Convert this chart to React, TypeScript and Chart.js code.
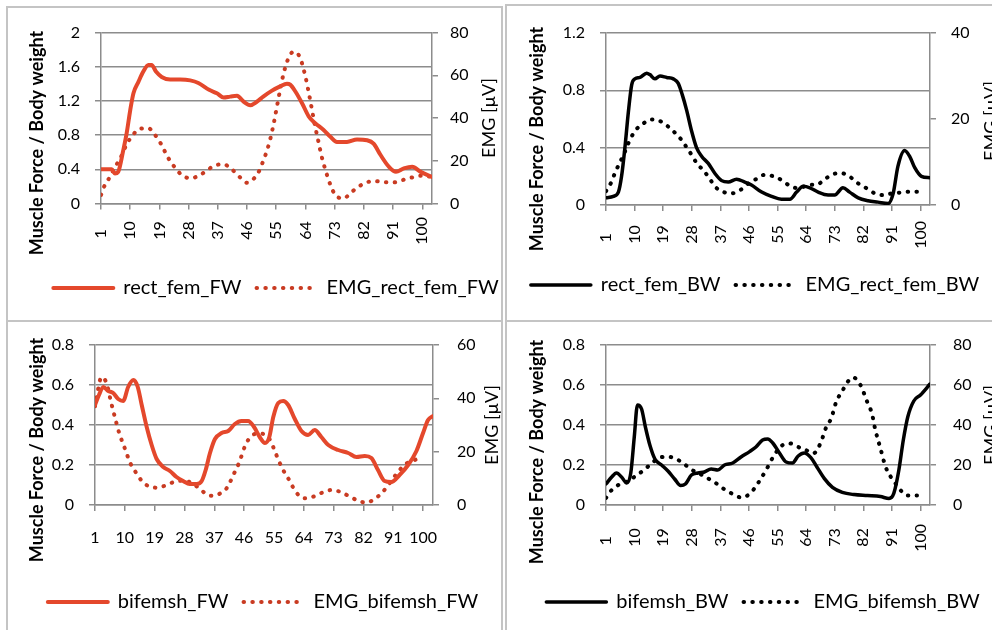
import React, { useEffect, useRef } from 'react';
import { Chart, registerables } from 'chart.js';

Chart.register(...registerables);

const RED = '#E4482C';
const RED_DOT = '#C93B22';
const BLACK = '#000000';
const GRID = '#8C8C8C';
const FONT = 'Lato, "Open Sans", sans-serif';

// category axis (gait cycle %) tick values and labels
const xTickValues = [1, 10, 19, 28, 37, 46, 55, 64, 73, 82, 91, 100];
const xTickLabels = ['1', '10', '19', '28', '37', '46', '55', '64', '73', '82', '91', '100'];

// ---------- rect_fem FW ----------
const rectFemFwX = [1, 4.3, 5.3, 6.3, 7.9, 8.9, 10, 11, 12.5, 14, 15.6, 16.6, 18, 19.7, 22.3, 25.4, 28.5, 31, 34.3, 36.7, 38.8, 40.8, 42.9, 45, 47, 49, 51, 53.7, 56.2, 58.3, 59.3, 60.9, 63, 65, 67, 69.6, 71.7, 73.7, 76.8, 79.9, 83, 85, 87.1, 89.7, 91.9, 94.3, 96.9, 99.5, 103];
const rectFemFwY = [0.40, 0.40, 0.35, 0.37, 0.63, 0.82, 1.09, 1.29, 1.42, 1.54, 1.62, 1.62, 1.54, 1.48, 1.45, 1.45, 1.44, 1.41, 1.33, 1.29, 1.24, 1.25, 1.26, 1.19, 1.15, 1.19, 1.25, 1.32, 1.37, 1.40, 1.39, 1.31, 1.17, 1.02, 0.94, 0.86, 0.78, 0.72, 0.72, 0.75, 0.74, 0.70, 0.57, 0.43, 0.37, 0.41, 0.43, 0.37, 0.31];
const emgRectFemFwX = [1, 2.2, 3.8, 5.3, 6.9, 8.9, 10.8, 12.8, 15.6, 17.7, 19.4, 21.8, 23.8, 25.9, 28.5, 31, 33.6, 36.2, 38.8, 41.3, 43.6, 46, 48.2, 49.9, 51, 52.2, 53.3, 54.3, 55.3, 56.3, 57.3, 58.5, 60.3, 62.2, 63.9, 65, 66, 67, 68, 69, 70.3, 71.7, 73.2, 75.8, 78, 80.4, 82.9, 85.4, 88.3, 91.3, 94, 96.9, 99.6, 102.2];
const emgRectFemFwY = [4, 8.7, 12.5, 17, 21, 27.7, 32, 34.9, 35.2, 32, 28.1, 21.1, 16.8, 13.3, 11.8, 12.9, 15.4, 17.9, 18.3, 16, 12.6, 9.7, 11.8, 15.7, 20, 25, 31, 38, 46, 54, 61, 67, 71, 68.7, 60, 52, 44, 36, 29, 22, 15, 8.7, 4, 2.4, 5.1, 7.9, 9.9, 10.5, 9.9, 9.9, 11, 12.2, 13, 12.6];

// ---------- rect_fem BW ----------
const rectFemBwX = [1, 3.3, 4.9, 5.9, 7, 8, 9.1, 10.1, 11.7, 13.8, 14.8, 16.4, 18, 20.1, 22.2, 23.7, 25, 26.4, 27.9, 29.5, 31.1, 33.2, 35.3, 37.4, 39.5, 42.1, 44.7, 46.8, 50, 53.1, 56.2, 58.9, 61, 63.1, 65.2, 67.8, 70.9, 73, 75.6, 77.7, 80.4, 83.5, 86.6, 89.8, 91.4, 92.9, 95, 96.6, 98.2, 100.3, 103];
const rectFemBwY = [0.05, 0.06, 0.09, 0.2, 0.41, 0.64, 0.84, 0.88, 0.89, 0.92, 0.91, 0.88, 0.9, 0.89, 0.88, 0.85, 0.77, 0.66, 0.52, 0.4, 0.34, 0.29, 0.22, 0.17, 0.16, 0.18, 0.16, 0.14, 0.09, 0.06, 0.04, 0.04, 0.09, 0.13, 0.12, 0.09, 0.07, 0.07, 0.12, 0.09, 0.05, 0.03, 0.02, 0.01, 0.08, 0.27, 0.38, 0.34, 0.26, 0.2, 0.19];
const emgRectFemBwX = [1, 2.6, 3.8, 5.1, 6.5, 8, 10.1, 12.5, 15.2, 17.8, 20.3, 22.7, 24.6, 26.4, 28, 29.5, 31.7, 33.4, 35.3, 37.7, 40.5, 43.3, 45.8, 48.2, 50.8, 53.6, 56.5, 59.2, 62, 64.6, 67.2, 69.9, 72.5, 75.1, 77.7, 80.4, 83, 85.6, 88.3, 91, 94, 97.1, 100.6];
const emgRectFemBwY = [3.2, 5.2, 7.4, 9.5, 11.6, 14.3, 17.2, 18.8, 19.9, 19.6, 18.4, 16.8, 15.3, 13.4, 11.6, 9.8, 8, 6.4, 4.3, 3.1, 2.7, 3.5, 5, 6, 7, 6.7, 5.7, 4.3, 3.9, 4.7, 4.7, 6, 7.2, 7.4, 6.6, 5, 3.9, 2.7, 2.3, 2.7, 2.9, 3.1, 3.1];

// ---------- bifemsh FW ----------
const bifemshFwX = [1, 2.2, 3.5, 5, 6.5, 8, 9.5, 11, 12.6, 13.9, 15.1, 16.6, 18.1, 19.6, 21.6, 23.6, 25.6, 27.6, 29.6, 31.7, 33.2, 34.4, 35.7, 37.2, 39.2, 41.2, 43.2, 45.2, 47.2, 49, 50.7, 52.3, 53.6, 54.8, 56.3, 57.8, 59.3, 61.3, 63.3, 65.3, 67.3, 69.3, 71.4, 74.4, 77.4, 79.9, 82.4, 84.4, 86.4, 88.4, 90.4, 92.9, 95.5, 98, 100, 101.5, 103];
const bifemshFwY = [0.5, 0.55, 0.59, 0.57, 0.56, 0.53, 0.52, 0.59, 0.625, 0.59, 0.5, 0.39, 0.3, 0.23, 0.19, 0.17, 0.14, 0.12, 0.105, 0.105, 0.12, 0.175, 0.26, 0.33, 0.36, 0.37, 0.405, 0.42, 0.42, 0.39, 0.34, 0.31, 0.34, 0.44, 0.51, 0.52, 0.5, 0.43, 0.37, 0.35, 0.375, 0.34, 0.3, 0.275, 0.26, 0.24, 0.245, 0.235, 0.175, 0.12, 0.115, 0.15, 0.2, 0.27, 0.36, 0.425, 0.445];
const emgBifemshFwX = [1, 3, 4.5, 5.8, 7.2, 8.3, 9.8, 11.8, 13.4, 15.1, 17.1, 19.9, 22.6, 25.1, 27.9, 30.7, 33.2, 35.7, 38.2, 40.7, 43, 44.5, 46.4, 48, 50.2, 52.8, 54.1, 55.2, 57.5, 59.3, 61.8, 64.3, 66.8, 69.5, 72.2, 74.9, 77.4, 79.9, 82.7, 85.2, 87.6, 89.9, 92.5, 95, 97.5, 100];
const emgBifemshFwY = [37, 48, 45.6, 38.8, 32, 27, 21.9, 15.3, 12.1, 9.1, 7.1, 6.5, 7.5, 8.75, 9.1, 7.9, 5.4, 3.5, 4, 6.25, 11.9, 15.9, 22.5, 25.6, 26.9, 25.9, 23.8, 20.4, 13.75, 10, 4.6, 2.5, 3.1, 4.6, 5.6, 5, 3.5, 1.9, 0.9, 2.1, 4.6, 8.1, 12.5, 15.6, 16.9, 18.1];

// ---------- bifemsh BW ----------
const bifemshBwX = [1, 2.8, 4.3, 5.9, 7.5, 8.8, 9.9, 10.9, 12.2, 13.4, 14.8, 16.4, 18.5, 20.5, 22.6, 24.5, 26, 27.9, 30, 32, 34.1, 36.2, 38.3, 40.9, 43.5, 46.2, 48.2, 50.3, 51.9, 53.5, 55.6, 57.7, 59.7, 61.5, 63.4, 65.5, 67.4, 69.7, 72.3, 75.4, 79.1, 83.3, 87.4, 90.1, 91.6, 93.2, 94.6, 96, 97.9, 100, 103];
const bifemshBwY = [0.105, 0.14, 0.16, 0.14, 0.11, 0.16, 0.34, 0.5, 0.48, 0.39, 0.3, 0.23, 0.2, 0.17, 0.13, 0.097, 0.105, 0.15, 0.16, 0.165, 0.18, 0.175, 0.2, 0.21, 0.24, 0.267, 0.29, 0.325, 0.33, 0.31, 0.26, 0.215, 0.21, 0.245, 0.26, 0.237, 0.19, 0.133, 0.088, 0.063, 0.052, 0.047, 0.042, 0.033, 0.058, 0.175, 0.325, 0.44, 0.52, 0.55, 0.605];
const emgBifemshBwX = [1, 2.5, 4.9, 7.5, 10.1, 12.7, 14.8, 17.4, 20, 22.8, 25.6, 28.1, 30.6, 33.1, 35.7, 38.3, 40.9, 43.5, 46.2, 48.8, 51.4, 54, 56.6, 58.9, 61.2, 63.9, 66.3, 68.5, 70.3, 71.9, 73.5, 75.4, 76.9, 78.8, 81.1, 83.2, 84.7, 85.8, 87.4, 89, 90.6, 92.1, 93.5, 95.8, 98.9];
const emgBifemshBwY = [3.5, 7, 10, 11.7, 14.2, 17.2, 20, 23.3, 24.2, 23.3, 20.5, 17.5, 15.5, 13.3, 10.8, 7.8, 5.5, 3.8, 5.5, 10.8, 17.5, 25, 30, 30.8, 29.2, 27.5, 25.8, 30.8, 38.8, 43.3, 51.7, 57, 61.2, 63.8, 60, 51.7, 45.8, 37.5, 28.3, 19.2, 14.2, 10.8, 7.8, 4.7, 4.7];

// axis ticks
const forceTicks2 = [0, 0.4, 0.8, 1.2, 1.6, 2];
const forceLabels2 = ['0', '0.4', '0.8', '1.2', '1.6', '2'];
const forceTicks12 = [0, 0.4, 0.8, 1.2];
const forceLabels12 = ['0', '0.4', '0.8', '1.2'];
const forceTicks08 = [0, 0.2, 0.4, 0.6, 0.8];
const forceLabels08 = ['0', '0.2', '0.4', '0.6', '0.8'];
const emgTicks80 = [0, 20, 40, 60, 80];
const emgTicks40 = [0, 20, 40];
const emgTicks60 = [0, 20, 40, 60];

const FORCE_TITLE = 'Muscle Force / Body weight';
const EMG_TITLE = 'EMG [µV]';

function pts(xs: number[], ys: number[]) {
  return xs.map((x, i) => ({ x, y: ys[i] }));
}

function padRotated(s: string) {
  const n = 3 - s.length;
  return s + ' '.repeat(n === 2 ? 3 : n === 1 ? 1 : 0);
}

const axisTitlePlugin = {
  id: 'axisTitles',
  afterDraw(chart: any, _args: any, opts: any) {
    const { ctx } = chart;
    (opts.items || []).forEach((t: any) => {
      ctx.save();
      ctx.translate(t.x, t.y);
      ctx.rotate(-Math.PI / 2);
      ctx.font = t.font;
      ctx.fillStyle = '#000';
      ctx.textAlign = 'center';
      ctx.textBaseline = 'middle';
      ctx.fillText(t.text, 0, 0);
      ctx.restore();
    });
  },
};

interface PanelDef {
  left: number; top: number; w: number; h: number;
  pad: { left: number; right: number; top: number; bottom: number };
  leftW: number; rightW: number; xAxisH: number;
  xRotation: number; xPad: number; yPadL: number; yPadR: number;
  leftTicks: number[]; leftLabels: string[]; rightTicks: number[];
  color: string; dotColor: string; lineWidth: number;
  lineLabel: string; emgLabel: string;
  lineX: number[]; lineY: number[]; emgX: number[]; emgY: number[];
  leftTitle: { x: number; y: number }; rightTitle: { x: number; y: number };
}

const panels: PanelDef[] = [
  {
    left: 0, top: 8, w: 530, h: 312,
    pad: { left: 22, right: 0, top: 24.5, bottom: 12 },
    leftW: 79, rightW: 98, xAxisH: 59.5,
    xRotation: 90, xPad: 7.5, yPadL: 15, yPadR: 12,
    leftTicks: forceTicks2, leftLabels: forceLabels2, rightTicks: emgTicks80,
    color: RED, dotColor: RED_DOT, lineWidth: 4,
    lineLabel: 'rect_fem_FW', emgLabel: 'EMG_rect_fem_FW',
    lineX: rectFemFwX, lineY: rectFemFwY, emgX: emgRectFemFwX, emgY: emgRectFemFwY,
    leftTitle: { x: 37, y: 135 }, rightTitle: { x: 489, y: 110 },
  },
  {
    left: 480, top: 8, w: 560, h: 312,
    pad: { left: 0, right: 10, top: 25, bottom: 15 },
    leftW: 126, rightW: 100, xAxisH: 55,
    xRotation: 90, xPad: 10, yPadL: 15, yPadR: 15,
    leftTicks: forceTicks12, leftLabels: forceLabels12, rightTicks: emgTicks40,
    color: BLACK, dotColor: BLACK, lineWidth: 3.5,
    lineLabel: 'rect_fem_BW', emgLabel: 'EMG_rect_fem_BW',
    lineX: rectFemBwX, lineY: rectFemBwY, emgX: emgRectFemBwX, emgY: emgRectFemBwY,
    leftTitle: { x: 57, y: 131 }, rightTitle: { x: 511, y: 113 },
  },
  {
    left: 0, top: 322, w: 530, h: 308,
    pad: { left: 0, right: 4, top: 23, bottom: 8 },
    leftW: 95, rightW: 93, xAxisH: 72,
    xRotation: 0, xPad: 17, yPadL: 15, yPadR: 18,
    leftTicks: forceTicks08, leftLabels: forceLabels08, rightTicks: emgTicks60,
    color: RED, dotColor: RED_DOT, lineWidth: 4,
    lineLabel: 'bifemsh_FW', emgLabel: 'EMG_bifemsh_FW',
    lineX: bifemshFwX, lineY: bifemshFwY, emgX: emgBifemshFwX, emgY: emgBifemshFwY,
    leftTitle: { x: 37, y: 128 }, rightTitle: { x: 492, y: 103 },
  },
  {
    left: 480, top: 322, w: 560, h: 308,
    pad: { left: 6, right: 0, top: 23, bottom: 8 },
    leftW: 120, rightW: 110, xAxisH: 72,
    xRotation: 90, xPad: 13, yPadL: 15, yPadR: 17,
    leftTicks: forceTicks08, leftLabels: forceLabels08, rightTicks: emgTicks80,
    color: BLACK, dotColor: BLACK, lineWidth: 3.5,
    lineLabel: 'bifemsh_BW', emgLabel: 'EMG_bifemsh_BW',
    lineX: bifemshBwX, lineY: bifemshBwY, emgX: emgBifemshBwX, emgY: emgBifemshBwY,
    leftTitle: { x: 57, y: 130 }, rightTitle: { x: 511, y: 103 },
  },
];

function Panel({ p }: { p: PanelDef }) {
  const ref = useRef<HTMLCanvasElement>(null);
  useEffect(() => {
    if (!ref.current) return;
    const tickFont = { family: FONT, size: 16 };
    const chart = new Chart(ref.current, {
      type: 'line',
      data: {
        datasets: [
          {
            label: p.lineLabel,
            data: pts(p.lineX, p.lineY),
            borderColor: p.color,
            backgroundColor: p.color,
            borderWidth: p.lineWidth,
            borderCapStyle: 'round',
            borderJoinStyle: 'round',
            pointRadius: 0,
            cubicInterpolationMode: 'monotone',
            yAxisID: 'y',
            fill: false,
          },
          {
            label: p.emgLabel,
            data: pts(p.emgX, p.emgY),
            borderColor: p.dotColor,
            backgroundColor: p.dotColor,
            borderWidth: 4,
            borderDash: [0.5, 8.3],
            borderCapStyle: 'round',
            pointRadius: 0,
            cubicInterpolationMode: 'monotone',
            yAxisID: 'y1',
            fill: false,
          },
        ],
      } as any,
      options: {
        responsive: false,
        maintainAspectRatio: false,
        animation: false,
        devicePixelRatio: 1,
        layout: { padding: p.pad },
        plugins: {
          tooltip: { enabled: false },
          legend: {
            position: 'bottom',
            labels: {
              usePointStyle: true,
              pointStyle: 'line',
              pointStyleWidth: 60,
              padding: 15,
              color: '#000',
              font: { family: FONT, size: 20 },
              generateLabels: (ch: any) =>
                ch.data.datasets.map((ds: any, i: number) => ({
                  text: ds.label,
                  strokeStyle: ds.borderColor,
                  fillStyle: ds.borderColor,
                  fontColor: '#000',
                  lineWidth: ds.borderWidth,
                  lineDash: ds.borderDash || [],
                  lineCap: ds.borderCapStyle,
                  pointStyle: 'line',
                  hidden: false,
                  datasetIndex: i,
                })),
            },
          },
          axisTitles: {
            items: [
              { text: FORCE_TITLE, x: p.leftTitle.x, y: p.leftTitle.y, font: `bold 18px ${FONT}` },
              { text: EMG_TITLE, x: p.rightTitle.x, y: p.rightTitle.y, font: `18px ${FONT}` },
            ],
          },
        } as any,
        scales: {
          x: {
            type: 'linear',
            min: 1,
            max: 103,
            afterBuildTicks: (s: any) => { s.ticks = xTickValues.map((v) => ({ value: v })); },
            afterFit: (s: any) => { s.height = p.xAxisH; s.paddingLeft = 0; s.paddingRight = 0; },
            ticks: {
              autoSkip: false,
              minRotation: p.xRotation,
              maxRotation: p.xRotation,
              padding: p.xPad,
              color: '#000',
              font: tickFont,
              callback: (_v: any, i: number) => (p.xRotation ? padRotated(xTickLabels[i]) : xTickLabels[i]),
            },
            grid: { drawOnChartArea: false, drawTicks: true, tickLength: 6, color: GRID, lineWidth: 1.5 },
            border: { display: true, color: GRID, width: 1.5 },
          },
          y: {
            position: 'left',
            min: 0,
            max: p.leftTicks[p.leftTicks.length - 1],
            afterBuildTicks: (s: any) => { s.ticks = p.leftTicks.map((v) => ({ value: v })); },
            afterFit: (s: any) => { s.width = p.leftW; s.paddingTop = 0; s.paddingBottom = 0; },
            ticks: { padding: p.yPadL, color: '#000', font: tickFont, callback: (_v: any, i: number) => p.leftLabels[i] },
            grid: { color: GRID, lineWidth: 1.5, tickLength: 6, drawTicks: true },
            border: { display: true, color: GRID, width: 1.5 },
          },
          y1: {
            position: 'right',
            min: 0,
            max: p.rightTicks[p.rightTicks.length - 1],
            afterBuildTicks: (s: any) => { s.ticks = p.rightTicks.map((v) => ({ value: v })); },
            afterFit: (s: any) => { s.width = p.rightW; s.paddingTop = 0; s.paddingBottom = 0; },
            ticks: { padding: p.yPadR, color: '#000', font: tickFont, callback: (v: any) => String(v) },
            grid: { drawOnChartArea: false, color: GRID, lineWidth: 1.5, tickLength: 6, drawTicks: true },
            border: { display: true, color: GRID, width: 1.5 },
          },
        } as any,
      },
      plugins: [axisTitlePlugin],
    });
    return () => chart.destroy();
  }, [p]);
  return (
    <canvas
      ref={ref}
      width={p.w}
      height={p.h}
      style={{ position: 'absolute', left: p.left, top: p.top, width: p.w, height: p.h }}
    />
  );
}

const frameStyle = (left: number, top: number, width: number, height: number): React.CSSProperties => ({
  position: 'absolute',
  left,
  top,
  width,
  height,
  boxSizing: 'border-box',
  border: '2px solid #C4C4C4',
});

export default function App() {
  return (
    <div style={{ position: 'absolute', left: 0, top: 0, width: 992, height: 630, overflow: 'hidden', background: '#fff' }}>
      <div style={frameStyle(6, 6, 497, 316)} />
      <div style={frameStyle(505, 4, 600, 318)} />
      <div style={frameStyle(6, 320, 497, 400)} />
      <div style={frameStyle(505, 320, 600, 400)} />
      {panels.map((p, i) => (
        <Panel key={i} p={p} />
      ))}
    </div>
  );
}
